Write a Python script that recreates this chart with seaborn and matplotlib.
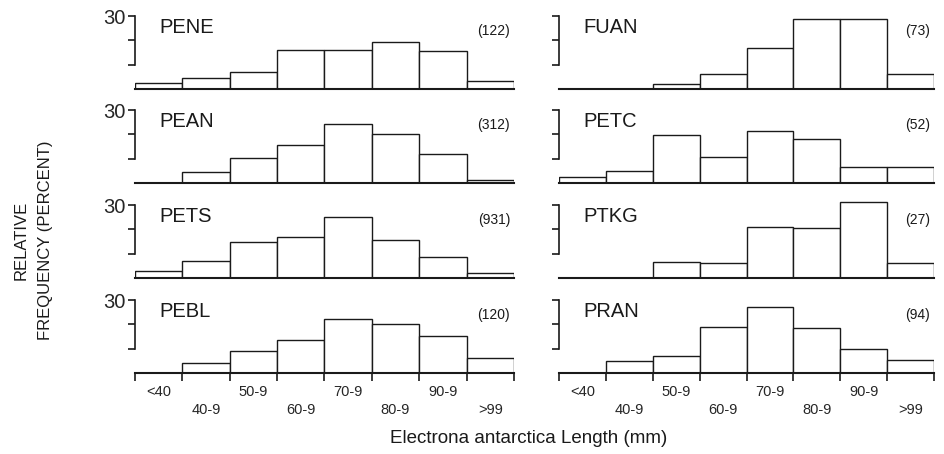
import matplotlib
matplotlib.use("Agg")
import matplotlib.pyplot as plt
import seaborn as sns
import pandas as pd

sns.set_style("ticks")
plt.rcParams['font.family'] = ['Liberation Sans', 'DejaVu Sans']

bins = ["<40", "40-9", "50-9", "60-9", "70-9", "80-9", "90-9", ">99"]

# left column (top to bottom)
pene = [2.5, 4.7, 6.8, 16.2, 16.2, 19.2, 15.8, 3.3]
pean = [0.0, 4.5, 10.4, 15.5, 24.1, 20.0, 11.8, 1.1]
pets = [3.0, 7.0, 14.8, 16.7, 25.3, 15.8, 8.6, 1.9]
pebl = [0.0, 4.1, 9.0, 13.7, 22.3, 20.3, 15.3, 6.0]
# right column (top to bottom)
fuan = [0.0, 0.0, 2.2, 6.3, 16.7, 29.0, 29.0, 6.3]
petc = [2.5, 4.8, 19.9, 10.7, 21.4, 18.0, 6.6, 6.6]
ptkg = [0.0, 0.0, 6.6, 6.0, 20.8, 20.5, 31.2, 6.3]
pran = [0.0, 4.9, 6.9, 19.0, 27.2, 18.7, 9.8, 5.4]

names = ["PENE", "FUAN", "PEAN", "PETC", "PETS", "PTKG", "PEBL", "PRAN"]
series = [pene, fuan, pean, petc, pets, ptkg, pebl, pran]
counts = ["(122)", "(73)", "(312)", "(52)", "(931)", "(27)", "(120)", "(94)"]

fig = plt.figure(figsize=(9.45, 4.54), dpi=100)

W, H = 945, 454
left_x = (135, 514)
right_x = (559, 934)
baselines = [89, 183, 278, 373]
YMAX = 33.5
px_per_unit = 2.43
ax_h = YMAX * px_per_unit

tick_font = ['Liberation Sans Narrow', 'Liberation Sans', 'DejaVu Sans']
ink = '#1a1a1a'

for i, (name, vals, cnt) in enumerate(zip(names, series, counts)):
    row, col = divmod(i, 2)
    x0, x1 = left_x if col == 0 else right_x
    b = baselines[row]
    ax = fig.add_axes([x0 / W, (H - b) / H, (x1 - x0) / W, ax_h / H])
    df = pd.DataFrame({"bin": bins, "pct": vals})
    sns.barplot(data=df, x="bin", y="pct", order=bins, color="white",
                edgecolor=ink, linewidth=1.0, width=1.0, errorbar=None,
                saturation=1, ax=ax)
    for p in ax.patches:
        p.set_facecolor("white")
        p.set_edgecolor(ink)
    ax.set_xlim(-0.5, 7.5)
    ax.set_ylim(0, YMAX)
    ax.set_xlabel("")
    ax.set_ylabel("")
    for s in ("top", "right"):
        ax.spines[s].set_visible(False)
    ax.spines["left"].set_bounds(10, 30)
    ax.spines["left"].set_linewidth(1.2)
    ax.spines["left"].set_color(ink)
    ax.spines["bottom"].set_linewidth(1.5)
    ax.spines["bottom"].set_color(ink)
    ax.set_yticks([10, 20, 30])
    if col == 0:
        ax.set_yticklabels(["", "", "30"], fontsize=14.5)
    else:
        ax.set_yticklabels(["", "", ""])
    ax.tick_params(axis="y", which="major", left=True, direction="out",
                   length=5, width=1.2, color=ink, pad=2)

    if row == 3:
        ax.set_xticks(range(len(bins)))
        labs = [t if k % 2 == 0 else "\n" + t for k, t in enumerate(bins)]
        ax.set_xticklabels(labs, fontsize=10.5, family=tick_font, linespacing=1.3)
        ax.tick_params(axis="x", which="major", length=0, pad=9)
        ax.set_xticks([k - 0.5 for k in range(len(bins) + 1)], minor=True)
        ax.tick_params(axis="x", which="minor", bottom=True, direction="out",
                       length=6, width=1.2, color=ink)
    else:
        ax.set_xticks([])

    ax.text(0.065, 25.3, name, transform=ax.get_yaxis_transform(), fontsize=14.5,
            ha="left", va="center", color=ink)
    ax.text(0.99, 23.8, cnt, transform=ax.get_yaxis_transform(), fontsize=10,
            ha="right", va="center", color=ink, family=tick_font)

fig.text(0.035, 0.47, "RELATIVE\nFREQUENCY (PERCENT)", rotation=90, ha="center",
         va="center", fontsize=12, linespacing=1.75, color=ink)
fig.text(0.559, 0.035, "Electrona antarctica Length (mm)", ha="center", va="center",
         fontsize=13.5, color=ink)

fig.savefig("out.png", dpi=100)
